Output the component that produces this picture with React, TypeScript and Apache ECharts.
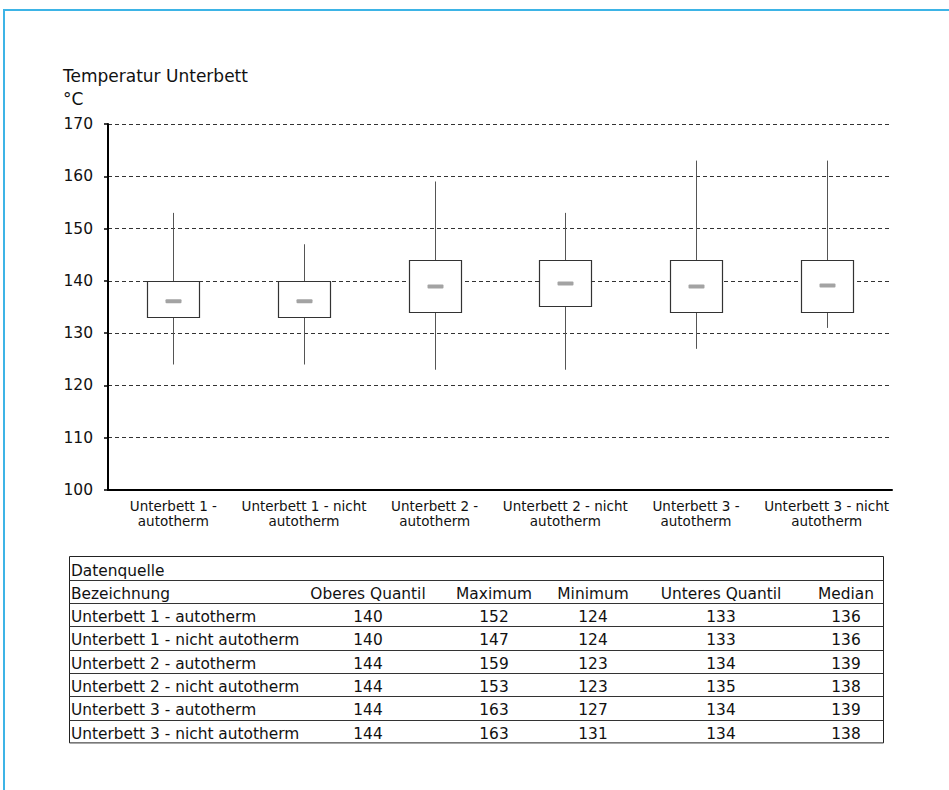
import React, { useEffect, useRef } from "react";
import * as echarts from "echarts";

const categories = [
  "Unterbett 1 -\nautotherm",
  "Unterbett 1 - nicht\nautotherm",
  "Unterbett 2 -\nautotherm",
  "Unterbett 2 - nicht\nautotherm",
  "Unterbett 3 -\nautotherm",
  "Unterbett 3 - nicht\nautotherm",
];

// values as drawn in the plot
const plotMin = [124, 124, 123, 123, 127, 131];
const plotQ1 = [133, 133, 134, 135.2, 134, 134];
const plotMedian = [136.1, 136.1, 138.9, 139.5, 138.9, 139.1];
const plotQ3 = [140, 140, 144, 144, 144, 144];
const plotMax = [153, 147, 159, 153, 163, 163];

// values as printed in the data table
const tableNames = [
  "Unterbett 1 - autotherm",
  "Unterbett 1 - nicht autotherm",
  "Unterbett 2 - autotherm",
  "Unterbett 2 - nicht autotherm",
  "Unterbett 3 - autotherm",
  "Unterbett 3 - nicht autotherm",
];
const tableHeaders = ["Oberes Quantil", "Maximum", "Minimum", "Unteres Quantil", "Median"];
const tableQ3 = [140, 140, 144, 144, 144, 144];
const tableMax = [152, 147, 159, 153, 163, 163];
const tableMin = [124, 124, 123, 123, 127, 131];
const tableQ1 = [133, 133, 134, 135, 134, 134];
const tableMedian = [136, 136, 139, 138, 139, 138];

const yTicks = { min: 100, max: 170, interval: 10 };

const FONT = "DejaVu Sans";

export default function App() {
  const ref = useRef<HTMLDivElement>(null);

  useEffect(() => {
    document.body.style.margin = "0";
    document.body.style.overflow = "hidden";
    const chart = echarts.init(ref.current!, undefined, { renderer: "svg" });

    const data = categories.map((_, i) => [
      i,
      plotMin[i],
      plotQ1[i],
      plotMedian[i],
      plotQ3[i],
      plotMax[i],
    ]);

    const tLeft = 69.5;
    const tRight = 883.5;
    const tTop = 556.5;
    const rowH = 23.3;
    const colCenters = [368, 494, 593, 721, 846];
    const tableCols = [tableQ3, tableMax, tableMin, tableQ1, tableMedian];
    const nRows = 2 + tableNames.length;
    const g: any[] = [];
    // page frame: top and left edges only
    g.push({
      type: "polyline",
      shape: { points: [[4, 790], [4, 10], [949, 10]] },
      style: { stroke: "#3db4e6", lineWidth: 2, fill: "none" },
      silent: true,
    });
    g.push({
      type: "text",
      x: 63,
      y: 76,
      style: { text: "Temperatur Unterbett", font: `17px '${FONT}'`, fill: "#111", verticalAlign: "middle" },
    });
    g.push({
      type: "text",
      x: 63,
      y: 99,
      style: { text: "°C", font: `17px '${FONT}'`, fill: "#111", verticalAlign: "middle" },
    });
    g.push({
      type: "rect",
      shape: { x: tLeft, y: tTop, width: tRight - tLeft, height: rowH * nRows },
      style: { fill: "none", stroke: "#222", lineWidth: 1 },
    });
    for (let r = 1; r < nRows; r++) {
      const y = Math.round(tTop + r * rowH) + 0.5;
      g.push({
        type: "line",
        shape: { x1: tLeft, y1: y, x2: tRight, y2: y },
        style: { stroke: "#333", lineWidth: 1 },
      });
    }
    const txt = (text: string, x: number, y: number, align: string) => ({
      type: "text",
      x,
      y,
      style: { text, font: `15.4px '${FONT}'`, fill: "#111", align, verticalAlign: "middle" },
    });
    g.push(txt("Datenquelle", 71, tTop + 14, "left"));
    g.push(txt("Bezeichnung", 71, tTop + rowH + 14, "left"));
    tableHeaders.forEach((h, c) => g.push(txt(h, colCenters[c], tTop + rowH + 14, "center")));
    tableNames.forEach((n, i) => {
      const y = tTop + rowH * (i + 2) + 14;
      g.push(txt(n, 71, y, "left"));
      tableCols.forEach((col, c) => g.push(txt(String(col[i]), colCenters[c], y, "center")));
    });

    chart.setOption({
      animation: false,
      backgroundColor: "#fff",
      grid: { left: 108, right: 57, top: 124, bottom: 300, containLabel: false },
      xAxis: {
        type: "category",
        data: categories,
        boundaryGap: true,
        axisLine: { lineStyle: { color: "#000", width: 2 } },
        axisTick: { show: false },
        axisLabel: {
          interval: 0,
          color: "#111",
          fontFamily: FONT,
          fontSize: 13.5,
          lineHeight: 15,
          margin: 8,
        },
      },
      yAxis: {
        type: "value",
        min: yTicks.min,
        max: yTicks.max,
        interval: yTicks.interval,
        axisLine: { show: true, lineStyle: { color: "#000", width: 2 } },
        axisTick: { show: true, length: 4, lineStyle: { color: "#000", width: 1.5 } },
        axisLabel: { color: "#111", fontFamily: FONT, fontSize: 15.5, margin: 15 },
        splitLine: { show: true, lineStyle: { color: "#333", width: 1, type: [4, 3] } },
      },
      series: [
        {
          type: "custom",
          data,
          encode: { x: 0, y: [1, 2, 3, 4, 5] },
          renderItem: (params: any, api: any) => {
            const xi = api.value(0);
            const pMin = api.coord([xi, api.value(1)]);
            const pQ1 = api.coord([xi, api.value(2)]);
            const pMed = api.coord([xi, api.value(3)]);
            const pQ3 = api.coord([xi, api.value(4)]);
            const pMax = api.coord([xi, api.value(5)]);
            const band = api.size([1, 0])[0];
            const bw = band * 0.4;
            const cx = Math.round(pMin[0]) + 0.5;
            const left = Math.round(cx - bw / 2) + 0.5;
            const top = Math.round(pQ3[1]) + 0.5;
            const bottom = Math.round(pQ1[1]) + 0.5;
            return {
              type: "group",
              children: [
                {
                  type: "line",
                  shape: { x1: cx, y1: pMax[1], x2: cx, y2: pMin[1] },
                  style: { stroke: "#555", lineWidth: 1 },
                },
                {
                  type: "rect",
                  shape: { x: left, y: top, width: Math.round(bw), height: bottom - top },
                  style: { fill: "#fff", stroke: "#333", lineWidth: 1.2 },
                },
                {
                  type: "rect",
                  shape: { x: cx - 8, y: pMed[1] - 2, width: 16, height: 4, r: 1 },
                  style: { fill: "#a3a3a3" },
                },
              ],
            };
          },
          z: 3,
        },
      ],
      graphic: g,
    });

    return () => chart.dispose();
  }, []);

  return (
    <div
      ref={ref}
      style={{ position: "fixed", left: 0, top: 0, width: 949, height: 790, background: "#fff" }}
    />
  );
}
